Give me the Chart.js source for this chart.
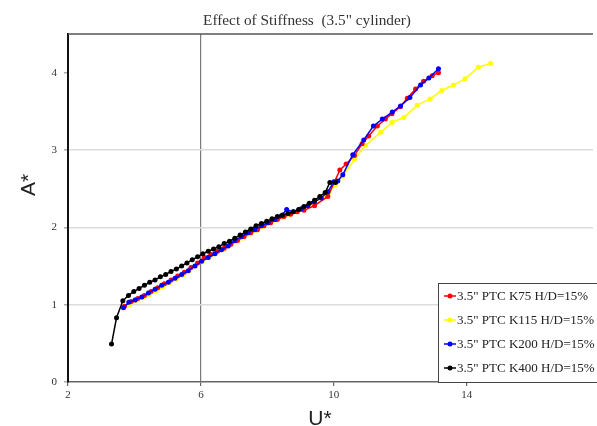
<!DOCTYPE html>
<html>
<head>
<meta charset="utf-8">
<script src="https://cdn.jsdelivr.net/npm/chart.js@4"></script>
<style>
body { margin: 0; background: #fff; }
</style>
</head>
<body>
<canvas id="stiffness" width="597" height="426"></canvas>
<script>
var chartTitle = 'Effect of Stiffness  (3.5" cylinder)';
var seriesNames = ['3.5" PTC K75 H/D=15%', '3.5" PTC K115 H/D=15%', '3.5" PTC K200 H/D=15%', '3.5" PTC K400 H/D=15%'];
var seriesColors = ['#ff0000', '#ffff00', '#0000ff', '#000000'];
var xTicks = [2, 6, 10, 14];
var yTicks = [0, 1, 2, 3, 4];

// K75
var u75 = [3.70, 3.90, 4.10, 4.30, 4.50, 4.70, 4.90, 5.10, 5.30, 5.50, 5.70, 5.90, 6.10, 6.30, 6.50, 6.70, 6.90, 7.10, 7.30, 7.50, 7.70, 7.90, 8.10, 8.30, 8.50, 8.70, 8.90, 9.10, 9.42, 9.82, 10.18, 10.37, 10.62, 10.85, 11.05, 11.31, 11.55, 11.75, 12.00, 12.21, 12.46, 12.70, 12.96, 13.15];
var a75 = [0.98, 1.04, 1.08, 1.12, 1.17, 1.22, 1.27, 1.32, 1.37, 1.42, 1.48, 1.54, 1.61, 1.65, 1.69, 1.73, 1.78, 1.83, 1.88, 1.93, 1.97, 2.02, 2.06, 2.10, 2.14, 2.17, 2.20, 2.22, 2.28, 2.40, 2.74, 2.82, 2.93, 3.08, 3.18, 3.31, 3.40, 3.47, 3.56, 3.67, 3.79, 3.89, 3.96, 4.00];
// K115
var u115 = [3.85, 4.05, 4.25, 4.45, 4.65, 4.85, 5.05, 5.25, 5.45, 5.65, 5.85, 6.05, 6.25, 6.45, 6.65, 6.85, 7.05, 7.25, 7.45, 7.65, 7.85, 8.05, 8.25, 8.45, 8.65, 8.85, 9.05, 9.25, 9.45, 9.65, 9.85, 10.05, 10.27, 10.62, 10.96, 11.41, 11.76, 12.11, 12.51, 12.90, 13.25, 13.60, 13.95, 14.35, 14.72];
var a115 = [1.00, 1.05, 1.09, 1.13, 1.18, 1.23, 1.28, 1.33, 1.38, 1.44, 1.50, 1.56, 1.61, 1.66, 1.71, 1.76, 1.81, 1.86, 1.91, 1.96, 2.01, 2.05, 2.09, 2.13, 2.17, 2.20, 2.24, 2.28, 2.33, 2.38, 2.45, 2.55, 2.66, 2.88, 3.06, 3.23, 3.36, 3.42, 3.58, 3.66, 3.77, 3.84, 3.92, 4.07, 4.12];
// K200
var u200 = [3.67, 3.83, 4.02, 4.22, 4.42, 4.62, 4.82, 5.02, 5.22, 5.42, 5.62, 5.82, 6.02, 6.22, 6.42, 6.62, 6.82, 7.02, 7.22, 7.42, 7.62, 7.82, 8.02, 8.22, 8.42, 8.58, 8.78, 9.02, 9.22, 9.42, 9.62, 9.82, 10.00, 10.12, 10.27, 10.57, 10.90, 11.19, 11.46, 11.76, 12.01, 12.29, 12.61, 12.86, 13.15];
var a200 = [0.96, 1.03, 1.06, 1.10, 1.15, 1.20, 1.25, 1.29, 1.34, 1.39, 1.44, 1.50, 1.56, 1.61, 1.66, 1.71, 1.76, 1.83, 1.88, 1.93, 1.97, 2.02, 2.06, 2.10, 2.15, 2.23, 2.20, 2.24, 2.28, 2.33, 2.38, 2.46, 2.59, 2.60, 2.68, 2.94, 3.13, 3.31, 3.40, 3.49, 3.57, 3.68, 3.84, 3.93, 4.05];
// K400
var u400 = [3.31, 3.46, 3.65, 3.82, 3.98, 4.14, 4.30, 4.46, 4.62, 4.78, 4.94, 5.10, 5.26, 5.42, 5.58, 5.74, 5.90, 6.06, 6.22, 6.38, 6.54, 6.70, 6.86, 7.02, 7.18, 7.34, 7.50, 7.66, 7.82, 7.98, 8.14, 8.30, 8.46, 8.62, 8.78, 8.94, 9.10, 9.26, 9.42, 9.58, 9.74, 9.88, 10.05];
var a400 = [0.49, 0.83, 1.05, 1.12, 1.17, 1.21, 1.25, 1.29, 1.32, 1.36, 1.39, 1.43, 1.46, 1.50, 1.54, 1.58, 1.62, 1.66, 1.69, 1.72, 1.75, 1.79, 1.82, 1.86, 1.90, 1.94, 1.98, 2.02, 2.05, 2.08, 2.11, 2.14, 2.16, 2.18, 2.20, 2.23, 2.27, 2.31, 2.35, 2.40, 2.45, 2.58, 2.58];

var uSets = [u75, u115, u200, u400];
var aSets = [a75, a115, a200, a400];
var drawOrder = [3, 4, 2, 1];

function toPoints(us, as) {
  var pts = [];
  for (var i = 0; i < us.length; i++) {
    pts.push({x: us[i], y: as[i]});
  }
  return pts;
}

// title, axis titles, top frame line and the boxed legend
var decorations = {
  id: 'decorations',
  afterDraw: function(chart) {
    var c = chart.ctx;
    var area = chart.chartArea;
    c.save();
    c.strokeStyle = '#555';
    c.lineWidth = 1.5;
    c.beginPath();
    c.moveTo(area.left, area.top);
    c.lineTo(area.right, area.top);
    c.stroke();

    c.fillStyle = '#333';
    c.font = '15.3px "Liberation Serif"';
    c.textAlign = 'center';
    c.textBaseline = 'alphabetic';
    c.fillText(chartTitle, 307, 25);

    c.fillStyle = '#222';
    c.font = '21px "Liberation Sans"';
    c.fillText('U*', 320, 425);
    c.save();
    c.translate(35, 185);
    c.rotate(-Math.PI / 2);
    c.fillText('A*', 0, 0);
    c.restore();

    var lx = 438, ly = 283, lw = 170, lh = 99;
    c.fillStyle = '#fff';
    c.fillRect(lx, ly, lw, lh);
    c.strokeStyle = '#444';
    c.lineWidth = 1;
    c.strokeRect(lx + 0.5, ly + 0.5, lw, lh);
    chart.data.datasets.forEach(function(ds, i) {
      var y = 296 + i * 24;
      c.strokeStyle = ds.borderColor;
      c.lineWidth = 1.5;
      c.beginPath();
      c.moveTo(444, y);
      c.lineTo(456, y);
      c.stroke();
      c.fillStyle = ds.borderColor;
      c.beginPath();
      c.arc(450, y, 2.5, 0, Math.PI * 2);
      c.fill();
      c.fillStyle = '#222';
      c.font = '13px "Liberation Serif"';
      c.textAlign = 'left';
      c.textBaseline = 'middle';
      c.fillText(ds.label, 457, y + 0.5);
    });
    c.restore();
  }
};

window.onload = function() {
  var ctx = document.getElementById('stiffness').getContext('2d');
  var datasets = [];
  for (var i = 0; i < seriesNames.length; i++) {
    datasets.push({
      label: seriesNames[i],
      data: toPoints(uSets[i], aSets[i]),
      showLine: true,
      borderColor: seriesColors[i],
      backgroundColor: seriesColors[i],
      borderWidth: 1.5,
      pointRadius: 2.5,
      pointBorderWidth: 0,
      order: drawOrder[i]
    });
  }

  var chart = new Chart(ctx, {
    type: 'scatter',
    data: {datasets: datasets},
    options: {
      responsive: false,
      animation: false,
      devicePixelRatio: 1,
      layout: {padding: {top: 34, right: 0, bottom: 0, left: 0}},
      plugins: {
        legend: {display: false},
        tooltip: {enabled: false},
        title: {display: false}
      },
      scales: {
        x: {
          type: 'linear',
          min: 2,
          max: 17.8,
          afterFit: function(scale) { scale.height = 44; },
          afterBuildTicks: function(scale) {
            scale.ticks = xTicks.map(function(v) { return {value: v}; });
          },
          border: {color: '#666', width: 1.5},
          grid: {
            color: function(c) { return c.tick && c.tick.value === 6 ? '#7a7a7a' : 'rgba(0,0,0,0)'; },
            tickColor: '#666',
            tickLength: 4,
            lineWidth: 1.2
          },
          ticks: {
            color: '#333',
            padding: 3,
            maxRotation: 0,
            font: {family: '"Liberation Serif"', size: 11}
          }
        },
        y: {
          type: 'linear',
          min: 0,
          max: 4.5,
          afterFit: function(scale) { scale.width = 68; },
          afterBuildTicks: function(scale) {
            scale.ticks = yTicks.map(function(v) { return {value: v}; });
          },
          border: {color: '#111', width: 2},
          grid: {
            color: function(c) { return c.tick && c.tick.value >= 1 && c.tick.value <= 3 ? '#dcdcdc' : 'rgba(0,0,0,0)'; },
            tickColor: '#aaa',
            tickLength: 4,
            lineWidth: 1.5
          },
          ticks: {
            color: '#333',
            padding: 7,
            font: {family: '"Liberation Serif"', size: 11}
          }
        }
      }
    },
    plugins: [decorations]
  });
}
</script>
</body>
</html>
